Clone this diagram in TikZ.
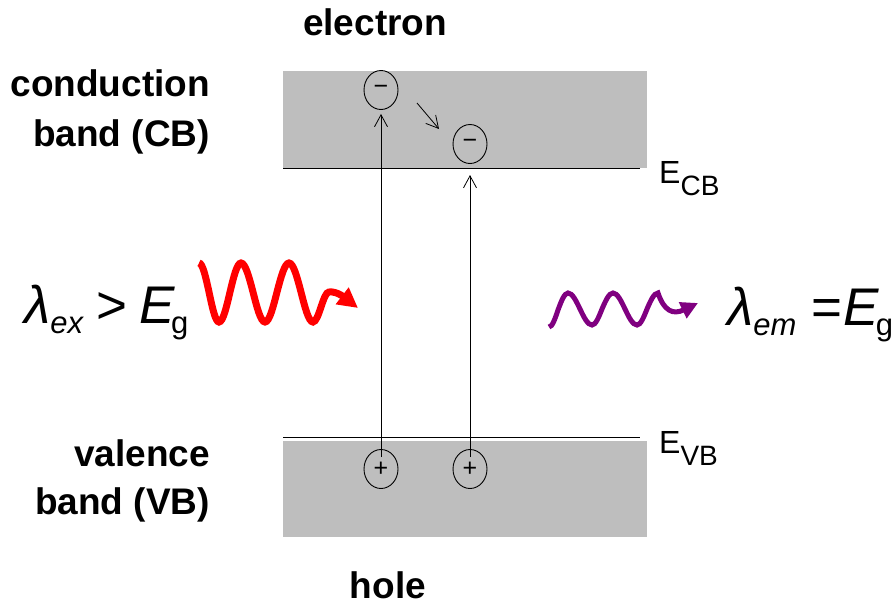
\documentclass[tikz,border=0pt]{standalone}
\usepackage{fontspec}
\setmainfont{Liberation Sans}
\usetikzlibrary{arrows.meta,shapes.geometric}
\definecolor{bandgray}{RGB}{190,190,190}
\definecolor{exred}{RGB}{255,0,0}
\definecolor{empurple}{RGB}{128,0,128}
\newcommand{\lowsub}[1]{\raisebox{-10pt}{\fontsize{31}{31}\selectfont #1}}
\newcommand{\levsub}[1]{\raisebox{-12pt}{\fontsize{28}{28}\selectfont #1}}

\begin{document}
\begin{tikzpicture}[x=1pt,y=-1pt,>=Latex,
 lbl/.style={font=\fontsize{37}{50}\selectfont\bfseries,inner sep=0pt},
 carrier/.style={ellipse,draw,line width=0.9pt,minimum width=34pt,minimum height=39pt,inner sep=0pt,font=\fontsize{25}{25}\selectfont},
 jump/.style={line width=0.8pt,-{Straight Barb[length=12pt,width=13pt,line width=0.8pt]}},
 lev/.style={anchor=base west,inner sep=0pt,font=\fontsize{32}{32}\selectfont},
 lam/.style={anchor=base west,inner sep=0pt,font=\fontsize{53}{53}\selectfont}]
\useasboundingbox (0,0) rectangle (894,605);
% bands
\fill[bandgray] (283,71) rectangle (647,168);
\fill[bandgray] (283,441) rectangle (647,537);
\coordinate (cbL) at (283,168); \coordinate (cbR) at (640,168);
\coordinate (vbL) at (283,437); \coordinate (vbR) at (640,437);
\draw[line width=0.8pt] (cbL)--(cbR);
\draw[line width=0.8pt] (vbL)--(vbR);
\node[lev] (ecb) at (659,183) {E\levsub{CB}};
\node[lev] (evb) at (659,453) {E\levsub{VB}};
% carriers
\node[carrier] (e1) at (381,90) {−};
\node[carrier] (e2) at (470,144) {−};
\node[carrier] (h1) at (381,469) {+};
\node[carrier] (h2) at (470,469) {+};
\coordinate (t2) at (470,175);
\coordinate (d1) at (417,103); \coordinate (d2) at (439,129);
\draw[jump,shorten <=-8pt,shorten >=4pt] (h1)--(e1);
\draw[jump,shorten <=-8pt] (h2)--(t2);
\draw[jump] (d1)--(d2);
% labels
\node[lbl,anchor=base] (elec) at (375,35) {electron};
\node[lbl,anchor=base] (hole) at (388,598) {hole};
\node[lbl,align=right,anchor=east] (cb) at (210,112) {conduction\\band (CB)};
\node[lbl,align=right,anchor=east,font=\fontsize{37}{48}\selectfont\bfseries] (vb) at (210,481) {valence\\band (VB)};
\node[lam] (lex) at (24,323) {\textit{λ}\lowsub{\textit{ex}}\kern-2pt{} > \kern-3pt\textit{E}\kern-4pt\lowsub{g}};
\node[lam] (lem) at (727,325) {\textit{λ}\lowsub{\textit{em}} =\kern1pt\textit{E}\kern-3pt\lowsub{g}};
% photons
\draw[exred,line width=7pt,-{Triangle[length=20pt,width=20pt]}] (199,263) cos (209,292) sin (219,322) cos (230,292) sin (241,263) cos (253,292) sin (265,322) cos (277,292) sin (289,263) cos (301,292) sin (313,322) cos (321,307) sin (329,292) .. controls (337,291) and (345,298) .. (358,308);
\draw[empurple,line width=5pt,-{Triangle[length=17pt,width=17pt]}] (549,327) cos (558,310) sin (568,293) cos (580,309) sin (592,325) cos (602,309) sin (613,293) cos (625,309) sin (637,325) cos (647,309) sin (658,293) .. controls (664,311) and (673,315) .. (698,303);
\end{tikzpicture}
\end{document}
